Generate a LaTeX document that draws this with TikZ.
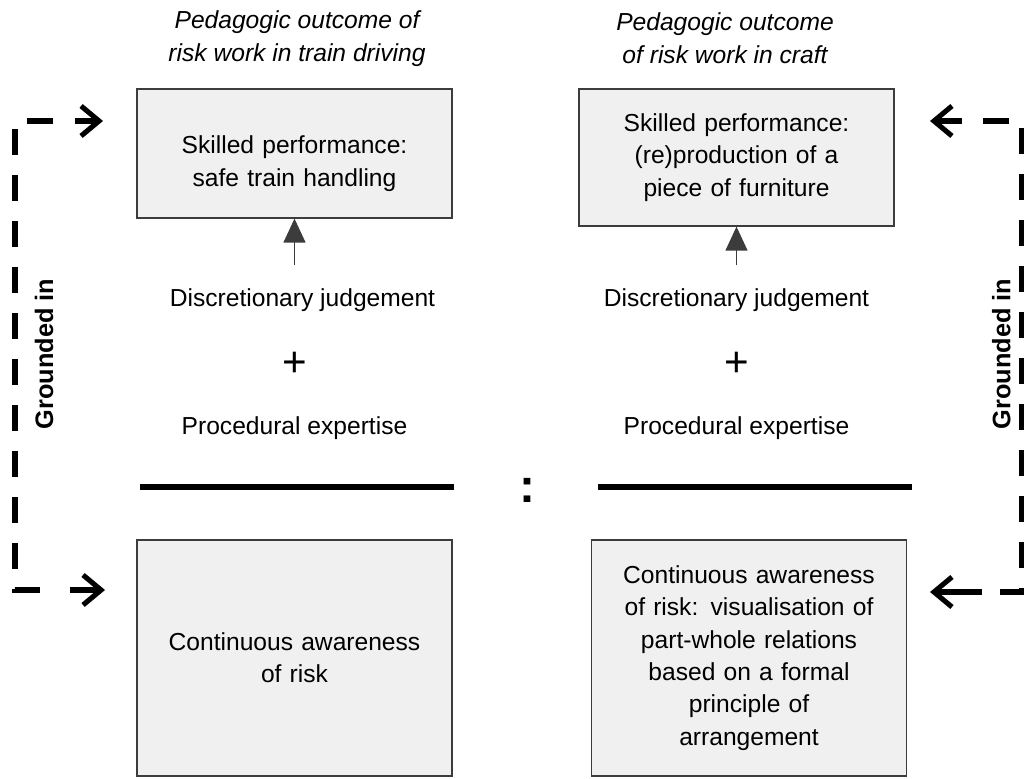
\documentclass[tikz,border=0pt]{standalone}
\usepackage{fontspec}
\setmainfont{Liberation Sans}
\usepackage{xcolor}
\usetikzlibrary{arrows.meta, positioning}
\definecolor{boxgray}{HTML}{F0F0F0}
\definecolor{edgegray}{HTML}{3C3C3C}
\tikzstyle{outcome} = [rectangle, 
minimum width=7.875cm, 
minimum height=3.225cm, 
text width=7.6cm, 
align=center, 
draw=edgegray, 
line width=0.9pt, 
fill=boxgray]
\tikzstyle{awareness} = [outcome, 
minimum height=5.9cm]
\tikzstyle{caption} = [align=center, 
font=\fontsize{17.5}{23.5}\selectfont\itshape]
\tikzstyle{plain} = [align=center]
\tikzstyle{sidelabel} = [rotate=90, 
font=\fontsize{18}{20}\selectfont\bfseries]
\tikzstyle{arrow} = [line width=0.9pt, draw=edgegray, -{Triangle[length=0.6cm, width=0.55cm]}]
\tikzstyle{grounded} = [line width=3.6pt, dash pattern=on 0.65cm off 0.5cm]
\tikzstyle{tip} = [line width=3.6pt, -{Straight Barb[length=0.45cm, width=0.75cm]}]
\tikzstyle{ratio} = [line width=3.6pt]

\begin{document}
\begin{tikzpicture}[node distance=1.6cm, font=\fontsize{17.5}{23}\selectfont]
  \useasboundingbox (0,0) rectangle (25.6,19.45);

  % left column: train driving
  \node (ltitle) [caption] at (7.425,18.49) {Pedagogic outcome of\\risk work in train driving};
  \node (tl) [outcome, text height=0.95cm] at (7.3625,15.6125) {Skilled performance:\\safe train handling};
  \node (ljudge) [plain, below of=tl, yshift=-2.06cm, xshift=0.2cm] {Discretionary judgement};
  \node (lplus) [plain, below of=ljudge, xshift=-0.2cm, font=\fontsize{30}{30}\selectfont] {+};
  \node (lexpert) [plain, below of=lplus] {Procedural expertise};
  \node (bl) [awareness] at (7.3625,3.0) {Continuous awareness\\of risk};

  % right column: craft
  \node (rtitle) [caption] at (18.125,18.49) {Pedagogic outcome\\of risk work in craft};
  \node (tr) [outcome, minimum height=3.425cm] at (18.4125,15.5125) {Skilled performance:\\(re)production of a\\piece of furniture};
  \node (rjudge) [plain, below of=tr, yshift=-1.96cm] {Discretionary judgement};
  \node (rplus) [plain, below of=rjudge, font=\fontsize{30}{30}\selectfont] {+};
  \node (rexpert) [plain, below of=rplus] {Procedural expertise};
  \node (br) [awareness] at (18.725,3.0) {Continuous awareness\\of risk: visualisation of\\part-whole relations\\based on a formal\\principle of\\arrangement};

  % ratio bars and colon
  \draw [ratio] (3.5,7.275) -- (11.35,7.275);
  \draw [ratio] (14.95,7.275) -- (22.8,7.275);
  \node (colon) [font=\fontsize{34}{34}\selectfont\bfseries] at (13.175,7.2) {:};

  \draw [arrow, shorten <=0.45cm] (ljudge.north -| tl.south) -- (tl.south);
  \draw [arrow, shorten <=0.45cm] (rjudge.north -| tr.south) -- (tr.south);

  % grounded in brackets
  \coordinate (ltop) at (2.575,16.425);
  \coordinate (ltoptail) at (1.875,16.425);
  \coordinate (lbot) at (2.625,4.7);
  \coordinate (lbottail) at (1.75,4.7);
  \coordinate (rtop) at (23.25,16.425);
  \coordinate (rtoptail) at (24.05,16.425);
  \coordinate (rbot) at (23.25,4.65);
  \coordinate (rbottail) at (24.55,4.65);
  \draw [grounded] (1.325,16.425) -- (0.375,16.425) -- (0.375,4.7) -- (1.25,4.7);
  \draw [grounded] (24.575,16.425) -- (25.55,16.425) -- (25.55,4.65) -- (25.0,4.65);
  \draw [tip] (ltoptail) -- (ltop);
  \draw [tip] (lbottail) -- (lbot);
  \draw [tip] (rtoptail) -- (rtop);
  \draw [tip] (rbottail) -- (rbot);
  \node (lground) [sidelabel] at (1.1,10.6) {Grounded in};
  \node (rground) [sidelabel] at (25.03,10.6) {Grounded in};
\end{tikzpicture}
\end{document}
